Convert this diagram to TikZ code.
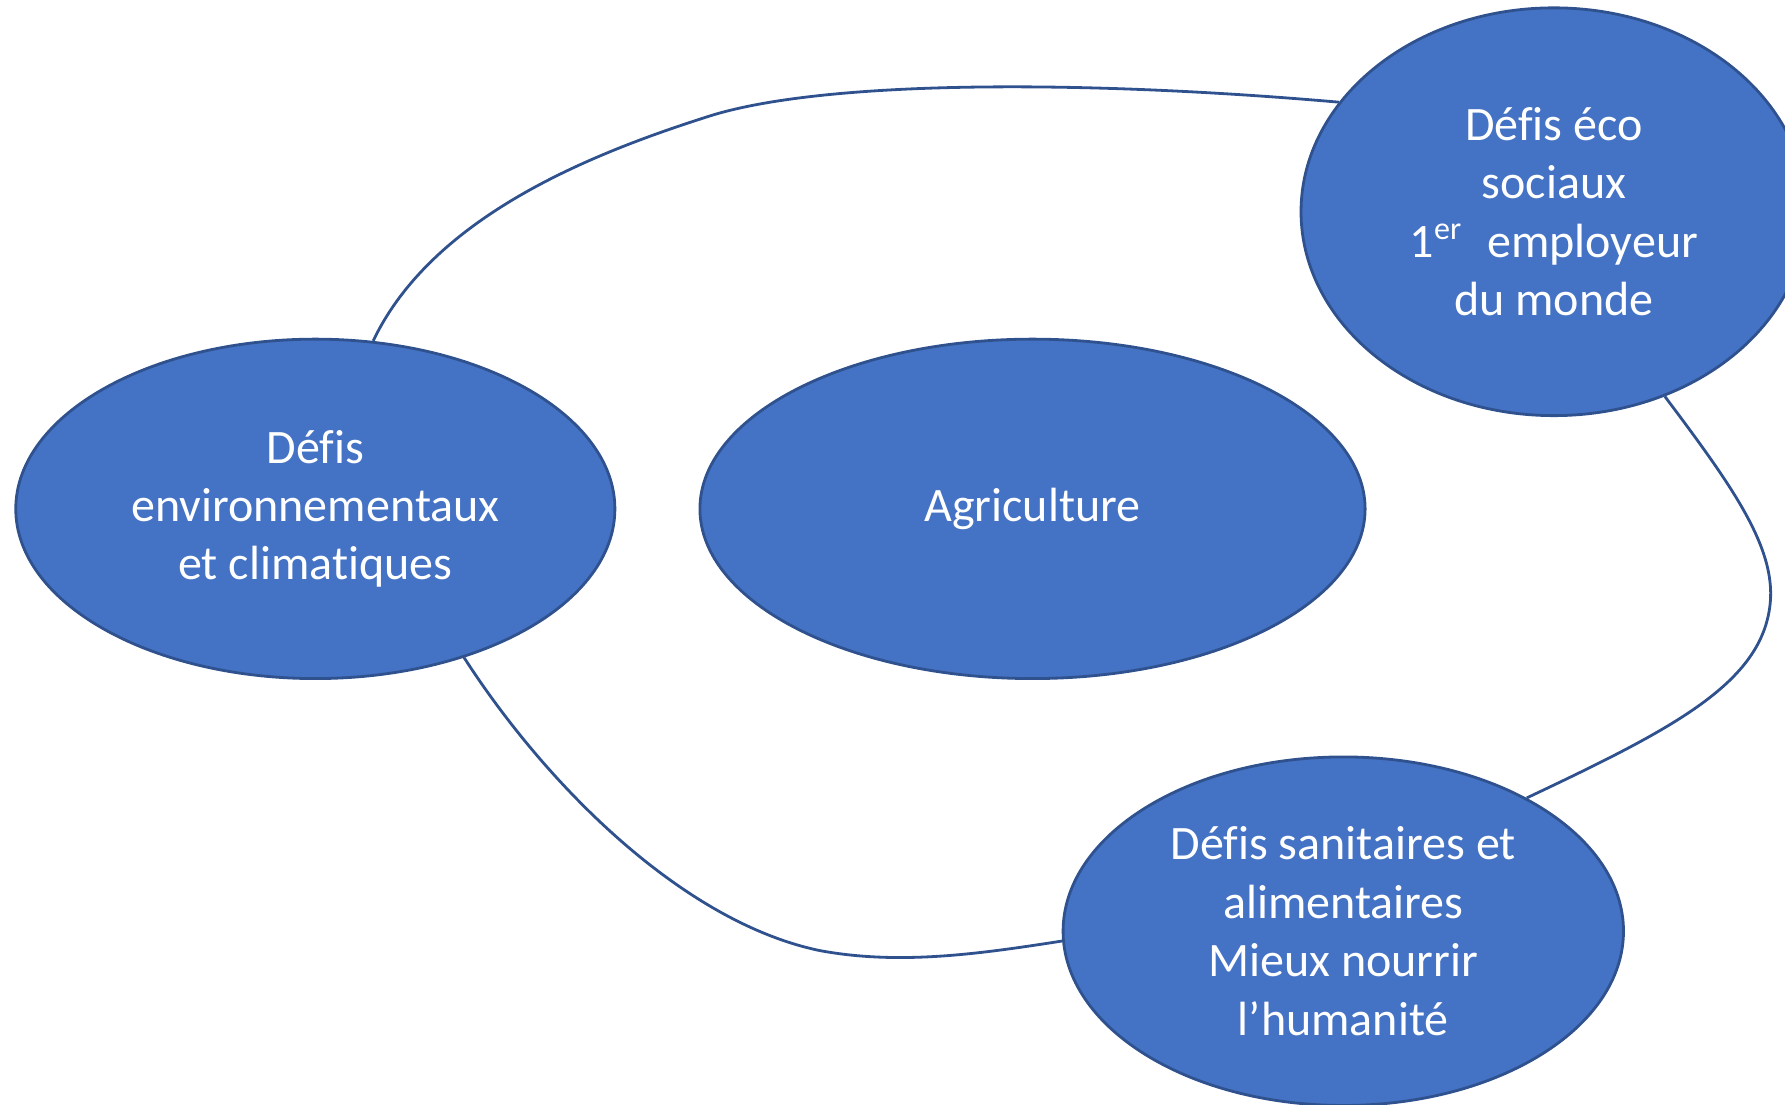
\documentclass[tikz,border=0pt]{standalone}
\usepackage{fontspec}
\setmainfont[Ligatures=NoCommon]{Carlito}
\usetikzlibrary{shapes.geometric}
\definecolor{bleu}{HTML}{4472C4}
\definecolor{bord}{HTML}{2F528F}
\begin{document}
\begin{tikzpicture}[x=0.01cm,y=-0.01cm,font=\fontsize{12}{14.6}\selectfont,
	defi/.style={ellipse,draw=bord,line width=0.7pt,fill=bleu,text=white,align=center,inner sep=0pt},
	lien/.style={draw=bord,line width=0.7pt}]
		\useasboundingbox (0,0) rectangle (1568,970);
		\node[defi,minimum width=5.26cm,minimum height=2.98cm] (env) at (277,447) {Défis\\environnementaux\\et climatiques};
		\node[defi,minimum width=5.84cm,minimum height=2.98cm] (agri) at (907,447) {Agriculture};
		\node[defi,minimum width=4.44cm,minimum height=3.58cm] (eco) at (1365,186) {Défis éco\\sociaux\\1\textsuperscript{er}\enspace employeur\\du monde};
		\node[defi,minimum width=4.92cm,minimum height=3.06cm] (san) at (1180,818) {Défis sanitaires et\\alimentaires\\Mieux nourrir\\l’humanité};
		\draw[lien] (env.71) .. controls (380,190) and (520,135) .. (620,103) .. controls (720,70) and (950,70) .. (eco.153);
		\draw[lien] (eco.-59) .. controls (1520,425) and (1560,480) .. (1555,530) .. controls (1548,600) and (1470,640) .. (san.36);
		\draw[lien] (env.-45) .. controls (480,690) and (600,810) .. (720,835) .. controls (790,848) and (860,838) .. (san.182);
	\end{tikzpicture}
\end{document}
